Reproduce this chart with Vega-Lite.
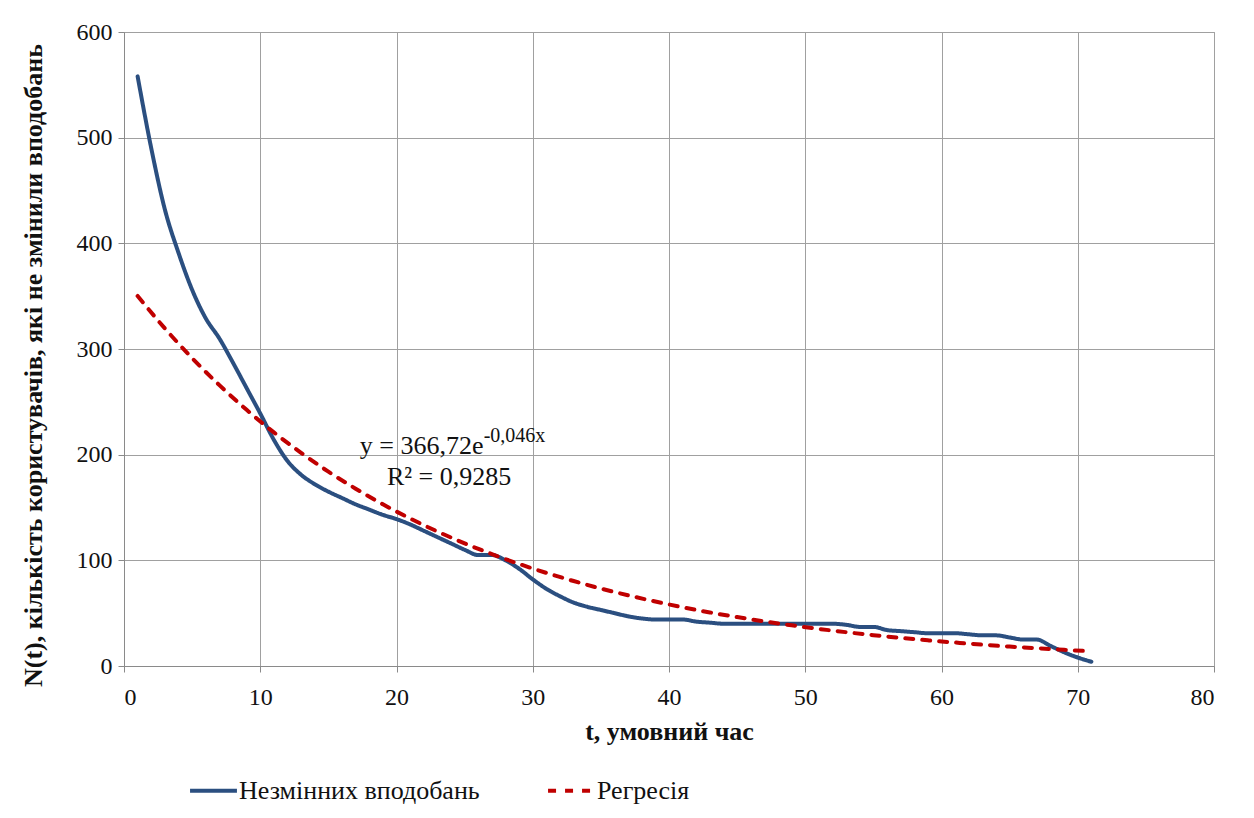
{
  "$schema": "https://vega.github.io/schema/vega-lite/v6.json",
  "width": 1090,
  "height": 634,
  "autosize": {"type": "none"},
  "padding": {"left": 124, "top": 32, "right": 40, "bottom": 152},
  "background": "white",
  "config": {
    "view": {"stroke": "#9a9a9a", "strokeWidth": 1},
    "font": "Liberation Serif",
    "text": {"font": "Liberation Serif"},
    "style": {
      "guide-label": {"font": "Liberation Serif", "fill": "#111"},
      "guide-title": {"font": "Liberation Serif", "fill": "#111"}
    },
    "axis": {
      "labelFont": "Liberation Serif", "labelFontSize": 24, "labelColor": "#111",
      "titleFont": "Liberation Serif", "titleFontSize": 26, "titleFontWeight": "bold", "titleColor": "#111",
      "gridColor": "#a0a0a0", "gridWidth": 1, "domainColor": "#8a8a8a", "tickColor": "#8a8a8a", "tickSize": 6
    },
    "legend": {"labelFont": "Liberation Serif"}
  },
  "datasets": {
    "main": [
      {"t": 1, "n": 558, "s": "Незмінних вподобань"},
      {"t": 2, "n": 490, "s": "Незмінних вподобань"},
      {"t": 3, "n": 432, "s": "Незмінних вподобань"},
      {"t": 4, "n": 391, "s": "Незмінних вподобань"},
      {"t": 5, "n": 356, "s": "Незмінних вподобань"},
      {"t": 6, "n": 329, "s": "Незмінних вподобань"},
      {"t": 7, "n": 310, "s": "Незмінних вподобань"},
      {"t": 8, "n": 287, "s": "Незмінних вподобань"},
      {"t": 9, "n": 263, "s": "Незмінних вподобань"},
      {"t": 10, "n": 239, "s": "Незмінних вподобань"},
      {"t": 11, "n": 214, "s": "Незмінних вподобань"},
      {"t": 12, "n": 194, "s": "Незмінних вподобань"},
      {"t": 13, "n": 181, "s": "Незмінних вподобань"},
      {"t": 14, "n": 172, "s": "Незмінних вподобань"},
      {"t": 15, "n": 165, "s": "Незмінних вподобань"},
      {"t": 16, "n": 159, "s": "Незмінних вподобань"},
      {"t": 17, "n": 153, "s": "Незмінних вподобань"},
      {"t": 18, "n": 148, "s": "Незмінних вподобань"},
      {"t": 19, "n": 143, "s": "Незмінних вподобань"},
      {"t": 20, "n": 139, "s": "Незмінних вподобань"},
      {"t": 21, "n": 134, "s": "Незмінних вподобань"},
      {"t": 22, "n": 128, "s": "Незмінних вподобань"},
      {"t": 23, "n": 122, "s": "Незмінних вподобань"},
      {"t": 24, "n": 116, "s": "Незмінних вподобань"},
      {"t": 25, "n": 110, "s": "Незмінних вподобань"},
      {"t": 26, "n": 105, "s": "Незмінних вподобань"},
      {"t": 27, "n": 105, "s": "Незмінних вподобань"},
      {"t": 28, "n": 100, "s": "Незмінних вподобань"},
      {"t": 29, "n": 92, "s": "Незмінних вподобань"},
      {"t": 30, "n": 82, "s": "Незмінних вподобань"},
      {"t": 31, "n": 73, "s": "Незмінних вподобань"},
      {"t": 32, "n": 66, "s": "Незмінних вподобань"},
      {"t": 33, "n": 60, "s": "Незмінних вподобань"},
      {"t": 34, "n": 56, "s": "Незмінних вподобань"},
      {"t": 35, "n": 53, "s": "Незмінних вподобань"},
      {"t": 36, "n": 50, "s": "Незмінних вподобань"},
      {"t": 37, "n": 47, "s": "Незмінних вподобань"},
      {"t": 38, "n": 45, "s": "Незмінних вподобань"},
      {"t": 39, "n": 44, "s": "Незмінних вподобань"},
      {"t": 40, "n": 44, "s": "Незмінних вподобань"},
      {"t": 41, "n": 44, "s": "Незмінних вподобань"},
      {"t": 42, "n": 42, "s": "Незмінних вподобань"},
      {"t": 43, "n": 41, "s": "Незмінних вподобань"},
      {"t": 44, "n": 40, "s": "Незмінних вподобань"},
      {"t": 46, "n": 40, "s": "Незмінних вподобань"},
      {"t": 48, "n": 40, "s": "Незмінних вподобань"},
      {"t": 50, "n": 40, "s": "Незмінних вподобань"},
      {"t": 52, "n": 40, "s": "Незмінних вподобань"},
      {"t": 53, "n": 39, "s": "Незмінних вподобань"},
      {"t": 54, "n": 37, "s": "Незмінних вподобань"},
      {"t": 55, "n": 37, "s": "Незмінних вподобань"},
      {"t": 56, "n": 34, "s": "Незмінних вподобань"},
      {"t": 57, "n": 33, "s": "Незмінних вподобань"},
      {"t": 58, "n": 32, "s": "Незмінних вподобань"},
      {"t": 59, "n": 31, "s": "Незмінних вподобань"},
      {"t": 60, "n": 31, "s": "Незмінних вподобань"},
      {"t": 61, "n": 31, "s": "Незмінних вподобань"},
      {"t": 62, "n": 30, "s": "Незмінних вподобань"},
      {"t": 63, "n": 29, "s": "Незмінних вподобань"},
      {"t": 64, "n": 29, "s": "Незмінних вподобань"},
      {"t": 65, "n": 27, "s": "Незмінних вподобань"},
      {"t": 66, "n": 25, "s": "Незмінних вподобань"},
      {"t": 67, "n": 25, "s": "Незмінних вподобань"},
      {"t": 68, "n": 19, "s": "Незмінних вподобань"},
      {"t": 69, "n": 13, "s": "Незмінних вподобань"},
      {"t": 70, "n": 8, "s": "Незмінних вподобань"},
      {"t": 71, "n": 4, "s": "Незмінних вподобань"},
      {"t": 1, "n": 350.2, "s": "Регресія"},
      {"t": 3, "n": 319.5, "s": "Регресія"},
      {"t": 5, "n": 291.4, "s": "Регресія"},
      {"t": 7, "n": 265.8, "s": "Регресія"},
      {"t": 9, "n": 242.4, "s": "Регресія"},
      {"t": 11, "n": 221.1, "s": "Регресія"},
      {"t": 13, "n": 201.7, "s": "Регресія"},
      {"t": 15, "n": 183.9, "s": "Регресія"},
      {"t": 17, "n": 167.8, "s": "Регресія"},
      {"t": 19, "n": 153.0, "s": "Регресія"},
      {"t": 21, "n": 139.6, "s": "Регресія"},
      {"t": 23, "n": 127.3, "s": "Регресія"},
      {"t": 25, "n": 116.1, "s": "Регресія"},
      {"t": 27, "n": 105.9, "s": "Регресія"},
      {"t": 29, "n": 96.6, "s": "Регресія"},
      {"t": 31, "n": 88.1, "s": "Регресія"},
      {"t": 33, "n": 80.4, "s": "Регресія"},
      {"t": 35, "n": 73.3, "s": "Регресія"},
      {"t": 37, "n": 66.9, "s": "Регресія"},
      {"t": 39, "n": 61.0, "s": "Регресія"},
      {"t": 41, "n": 55.6, "s": "Регресія"},
      {"t": 43, "n": 50.7, "s": "Регресія"},
      {"t": 45, "n": 46.3, "s": "Регресія"},
      {"t": 47, "n": 42.2, "s": "Регресія"},
      {"t": 49, "n": 38.5, "s": "Регресія"},
      {"t": 51, "n": 35.1, "s": "Регресія"},
      {"t": 53, "n": 32.0, "s": "Регресія"},
      {"t": 55, "n": 29.2, "s": "Регресія"},
      {"t": 57, "n": 26.6, "s": "Регресія"},
      {"t": 59, "n": 24.3, "s": "Регресія"},
      {"t": 61, "n": 22.2, "s": "Регресія"},
      {"t": 63, "n": 20.2, "s": "Регресія"},
      {"t": 65, "n": 18.4, "s": "Регресія"},
      {"t": 67, "n": 16.8, "s": "Регресія"},
      {"t": 69, "n": 15.3, "s": "Регресія"},
      {"t": 71, "n": 14.0, "s": "Регресія"}
    ],
    "notes": [
      {"t": 17.3, "n": 201, "label": "y = 366,72e", "kind": "main"},
      {"t": 26.4, "n": 212, "label": "-0,046x", "kind": "sup"},
      {"t": 19.3, "n": 171, "label": "R² = 0,9285", "kind": "main"}
    ]
  },
  "layer": [
    {
      "data": {"name": "main"},
      "mark": {"type": "line", "interpolate": "monotone", "strokeWidth": 4, "strokeCap": "round"},
      "encoding": {
        "x": {"field": "t", "type": "quantitative",
              "scale": {"domain": [0, 80], "nice": false},
              "axis": {"values": [0,10,20,30,40,50,60,70,80], "title": "t, умовний час", "titlePadding": 9, "labelPadding": 13,
                       "labelFont": "Liberation Serif", "titleFont": "Liberation Serif"}},
        "y": {"field": "n", "type": "quantitative",
              "scale": {"domain": [0, 600], "nice": false},
              "axis": {"values": [0,100,200,300,400,500,600], "title": "N(t), кількість користувачів, які не змінили вподобань", "labelPadding": 6, "titleFontSize": 26,
                       "titleX": -91, "titleY": 333, "titleAngle": 270, "titleAlign": "center", "titleBaseline": "middle",
                       "labelFont": "Liberation Serif", "titleFont": "Liberation Serif"}},
        "color": {"field": "s", "type": "nominal",
                  "scale": {"domain": ["Незмінних вподобань", "Регресія"], "range": ["#2B4F80", "#C00000"]},
                  "legend": {"title": null, "orient": "none", "direction": "horizontal", "legendX": 64, "legendY": 733,
                             "symbolType": "stroke", "symbolSize": 2200, "symbolStrokeWidth": 4,
                             "labelFont": "Liberation Serif", "labelFontSize": 26, "labelColor": "#111", "labelLimit": 400,
                             "labelOffset": 0, "columnPadding": 60}},
        "strokeDash": {"field": "s", "type": "nominal",
                       "scale": {"domain": ["Незмінних вподобань", "Регресія"], "range": [[1, 0], [8, 9]]},
                       "legend": {"title": null, "orient": "none", "direction": "horizontal", "legendX": 64, "legendY": 733,
                                  "symbolType": "stroke", "symbolSize": 2200, "symbolStrokeWidth": 4,
                                  "labelFont": "Liberation Serif", "labelFontSize": 26, "labelColor": "#111", "labelLimit": 400,
                                  "labelOffset": 0, "columnPadding": 60}}
      }
    },
    {
      "data": {"name": "notes"},
      "transform": [{"filter": "datum.kind === 'main'"}],
      "mark": {"type": "text", "align": "left", "baseline": "alphabetic", "font": "Liberation Serif", "fontSize": 26, "color": "#111"},
      "encoding": {
        "x": {"field": "t", "type": "quantitative"},
        "y": {"field": "n", "type": "quantitative"},
        "text": {"field": "label"}
      }
    },
    {
      "data": {"name": "notes"},
      "transform": [{"filter": "datum.kind === 'sup'"}],
      "mark": {"type": "text", "align": "left", "baseline": "alphabetic", "font": "Liberation Serif", "fontSize": 20, "color": "#111"},
      "encoding": {
        "x": {"field": "t", "type": "quantitative"},
        "y": {"field": "n", "type": "quantitative"},
        "text": {"field": "label"}
      }
    }
  ]
}
